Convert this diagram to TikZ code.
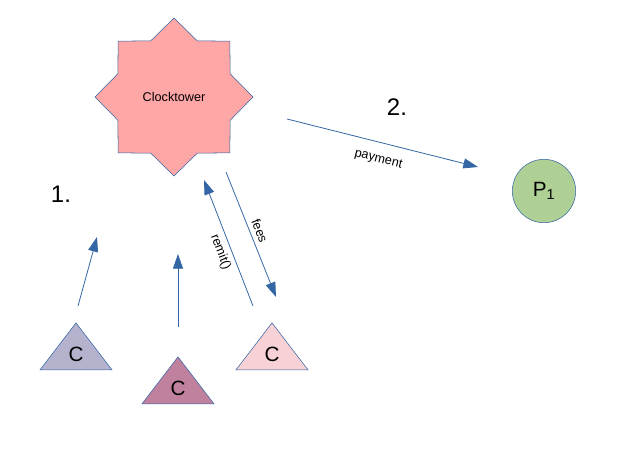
\documentclass[tikz,border=0pt]{standalone}
\usepackage{fontspec}
\setmainfont{Liberation Sans}
\usetikzlibrary{shapes.geometric, arrows.meta}
\definecolor{lineblue}{HTML}{3465A4}
\definecolor{towerred}{HTML}{FFA6A6}
\definecolor{payeegreen}{HTML}{AFD095}
\definecolor{clientA}{HTML}{B4B2CC}
\definecolor{clientB}{HTML}{BF819E}
\definecolor{clientC}{HTML}{F7D1D5}
\tikzset{flow/.style={draw=lineblue, line width=0.6pt, -{Triangle[length=11pt, width=7.5pt]}}}
\tikzset{client/.style={isosceles triangle, isosceles triangle stretches, shape border rotate=90, draw=lineblue, fill=#1, minimum width=54pt, minimum height=35.25pt, inner sep=0pt, font=\fontsize{15.5}{18}\selectfont}}
\tikzset{msg/.style={font=\fontsize{9.5}{11}\selectfont, sloped}}
\tikzset{stepnum/.style={font=\fontsize{18}{21}\selectfont}}

\begin{document}
\begin{tikzpicture}[x=0.75pt, y=-0.75pt]
    \useasboundingbox (0,0) rectangle (617,451);
    \node[star, star points=8, star point ratio=1.3, minimum size=118.5pt, draw=lineblue, fill=towerred, inner sep=0pt, font=\fontsize{9.5}{11}\selectfont] (tower) at (174,97) {Clocktower};
    \node[circle, draw=lineblue, fill=payeegreen, minimum size=47.5pt, inner sep=0pt, font=\fontsize{15.5}{18}\selectfont] (payee) at (544,191) {P\textsubscript{1}};
    \foreach \name/\pos/\col in {c1/{(76,354)}/clientA, c2/{(178,388)}/clientB, c3/{(272,354)}/clientC} {
        \node[client=\col] (\name) at \pos {C};
    }
    \node[stepnum] (step1) at (61,194) {1.};
    \node[stepnum] (step2) at (397,107) {2.};
    \coordinate (c1-out) at (78,306);
    \coordinate (c1-in) at (97,237);
    \coordinate (c2-out) at (178,327);
    \coordinate (c2-in) at (178,254);
    \coordinate (remit-out) at (253,306);
    \coordinate (remit-in) at (204,180);
    \coordinate (fees-out) at (226,172);
    \coordinate (fees-in) at (276,297);
    \coordinate (pay-out) at (287,119);
    \coordinate (pay-in) at (478,167);
    \draw[flow] (c1-out) -- (c1-in);
    \draw[flow] (c2-out) -- (c2-in);
    \draw[flow] (remit-out) -- node[msg, pos=0.46, below] (remitlbl) {remit()} (remit-in);
    \draw[flow] (fees-out) -- node[msg, pos=0.5, above] (feeslbl) {fees} (fees-in);
    \draw[flow] (pay-out) -- node[msg, pos=0.5, below=5pt] (paylbl) {payment} (pay-in);
\end{tikzpicture}
\end{document}
